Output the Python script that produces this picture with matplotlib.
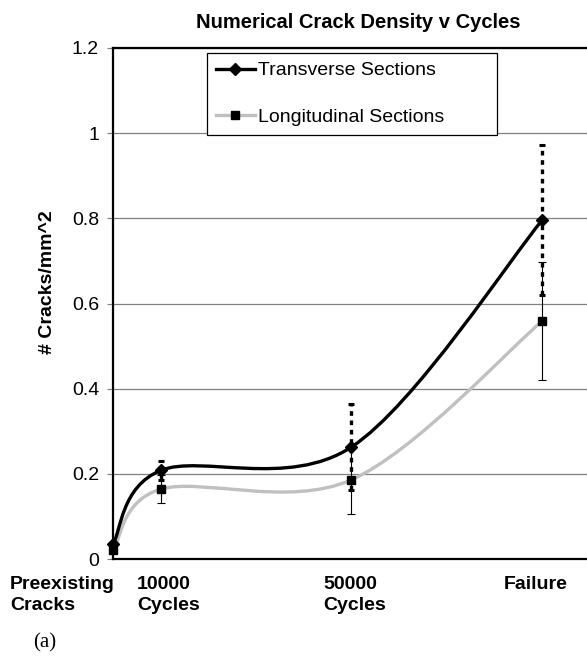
import matplotlib
matplotlib.use("Agg")
import matplotlib.pyplot as plt
from matplotlib.path import Path
from matplotlib.patches import PathPatch
from matplotlib.lines import Line2D

plt.rcParams['font.family'] = ['Liberation Sans', 'DejaVu Sans']

# datos
ciclos = [0, 10000, 50000, 90000]
etiquetas_x = ["Preexisting\nCracks", "10000\nCycles", "50000\nCycles", "Failure"]
transversal = [0.035, 0.208, 0.263, 0.796]
transversal_err = [0.0, 0.022, 0.10, 0.176]
longitudinal = [0.02, 0.164, 0.186, 0.559]
longitudinal_err = [0.0, 0.033, 0.08, 0.138]
yticks = [0, 0.2, 0.4, 0.6, 0.8, 1.0, 1.2]
yticklabels = ["0", "0.2", "0.4", "0.6", "0.8", "1", "1.2"]

W, H = 587, 656


def curva_suave(xs, ys):
    # bezier tipo catmull-rom (como el "smoothed line" de excel)
    pts = list(zip(xs, ys))
    n = len(pts)
    verts = [pts[0]]
    codes = [Path.MOVETO]
    for i in range(n - 1):
        p0 = pts[max(i - 1, 0)]
        p1 = pts[i]
        p2 = pts[i + 1]
        p3 = pts[min(i + 2, n - 1)]
        c1 = (p1[0] + (p2[0] - p0[0]) / 6, p1[1] + (p2[1] - p0[1]) / 6)
        c2 = (p2[0] - (p3[0] - p1[0]) / 6, p2[1] - (p3[1] - p1[1]) / 6)
        verts += [c1, c2, p2]
        codes += [Path.CURVE4] * 3
    return Path(verts, codes)


fig = plt.figure(figsize=(W / 100, H / 100), dpi=100)
ax = fig.add_axes([113 / W, 1 - 559 / H, 477 / W, 511 / H])

ax.set_xlim(0, 100000)
ax.set_ylim(0, 1.2)

# grilla
ax.set_yticks(yticks)
ax.set_yticklabels(yticklabels, fontsize=14)
ax.yaxis.grid(True, color='#808080', linewidth=0.9)
ax.set_axisbelow(True)
ax.set_xticks([])
ax.tick_params(axis='y', length=4, width=0.8, color='#808080', pad=6)

for lado in ['left', 'bottom', 'top']:
    ax.spines[lado].set_color('black')
    ax.spines[lado].set_linewidth(1.6)
ax.spines['right'].set_visible(False)

# curvas
ax.add_patch(PathPatch(curva_suave(ciclos, longitudinal), facecolor='none',
                       edgecolor='#c0c0c0', linewidth=2.4, zorder=3))
ax.add_patch(PathPatch(curva_suave(ciclos, transversal), facecolor='none',
                       edgecolor='black', linewidth=2.4, zorder=4))

# barras de error longitudinal (finas con tope)
ax.errorbar(ciclos[1:], longitudinal[1:], yerr=longitudinal_err[1:], fmt='none',
            ecolor='black', elinewidth=0.8, capsize=3, capthick=0.8, zorder=5)

# barras de error transversal (punteadas gruesas)
for x, y, e in zip(ciclos[1:], transversal[1:], transversal_err[1:]):
    ax.vlines(x, y - e, y + e, colors='black', linewidth=2.4,
              linestyles=(0, (1.4, 1.4)), zorder=6)
    ax.plot([x, x], [y - e, y + e], linestyle='none', marker='_',
            markersize=5, markeredgewidth=2.2, color='black', zorder=6)

# marcadores
ax.plot(ciclos, longitudinal, linestyle='none', marker='s', markersize=5.5,
        color='black', zorder=7, clip_on=False)
ax.plot(ciclos, transversal, linestyle='none', marker='D', markersize=6.5,
        color='black', zorder=8, clip_on=False)

# leyenda
h1 = Line2D([], [], color='black', linewidth=2.4, marker='D', markersize=6.5)
h2 = Line2D([], [], color='#c0c0c0', linewidth=2.4, marker='s', markersize=5.5,
            markerfacecolor='black', markeredgecolor='black')
leg = ax.legend([h1, h2], ["Transverse Sections", "Longitudinal Sections"],
                loc='upper left', bbox_to_anchor=(0.197, 0.0, 0.608, 0.99),
                mode='expand', borderaxespad=0, fontsize=14, handlelength=2.0,
                handletextpad=0.15, labelspacing=1.5, borderpad=0.45,
                fancybox=False, framealpha=1, edgecolor='black')
leg.get_frame().set_linewidth(0.9)
leg.set_zorder(10)

# textos
fig.text(358 / W, 1 - 22 / H, "Numerical Crack Density v Cycles", fontsize=14.5,
         fontweight='bold', ha='center', va='center')
fig.text(48 / W, 1 - 282 / H, "# Cracks/mm^2", fontsize=14, fontweight='bold',
         rotation=90, ha='center', va='center')

pos_x = [10, 137, 323, 504]
for px, txt in zip(pos_x, etiquetas_x):
    fig.text(px / W, 1 - 576 / H, txt, fontsize=14, fontweight='bold',
             ha='left', va='top', linespacing=1.3)

fig.text(33 / W, 1 - 643 / H, "(a)", fontsize=15, family='Liberation Serif',
         ha='left', va='center')

fig.savefig("out.png", dpi=100)
